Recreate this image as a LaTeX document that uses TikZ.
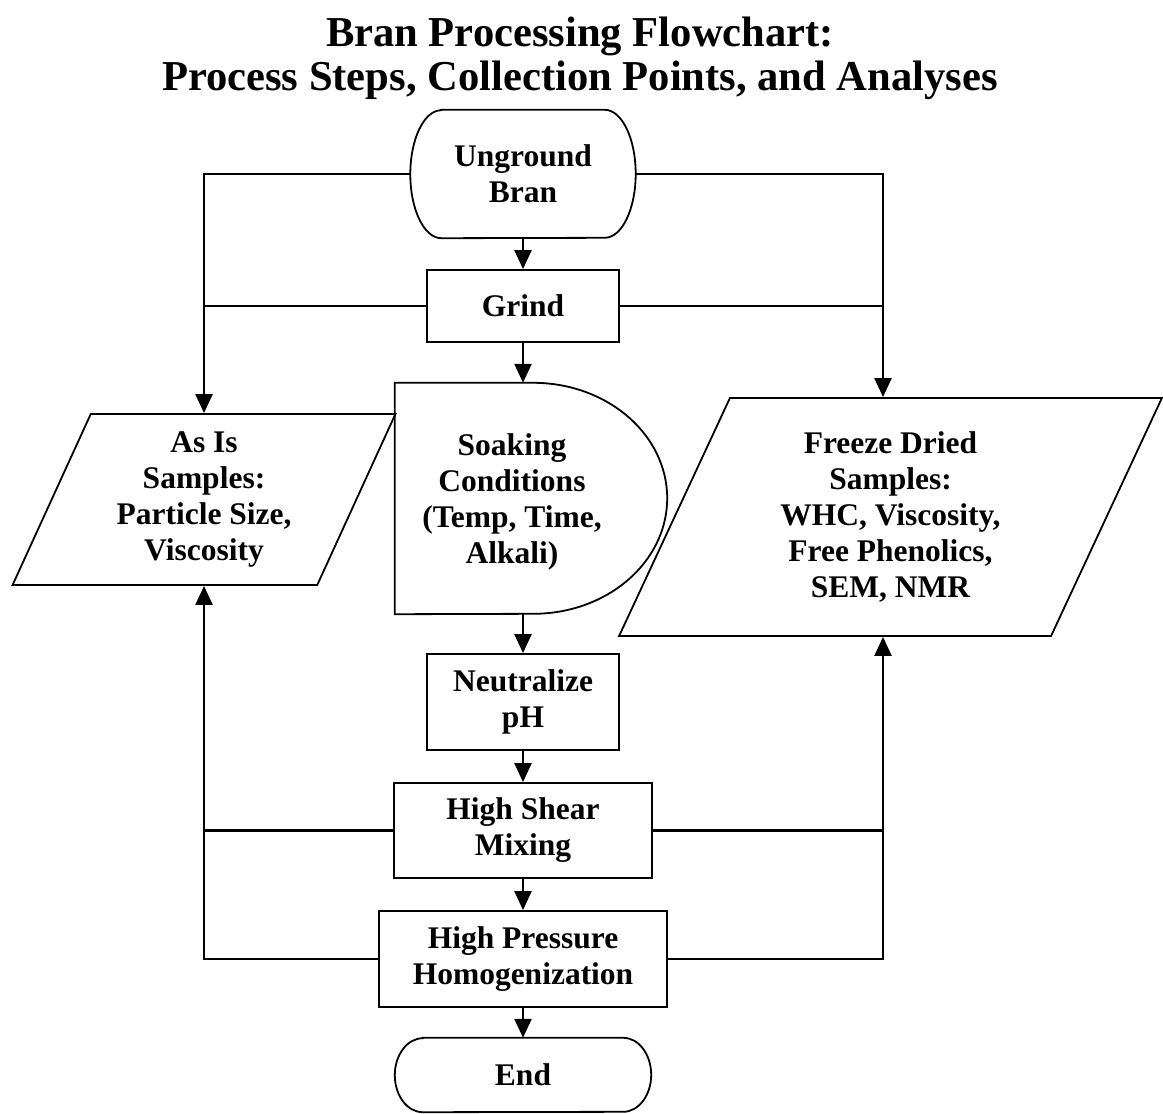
\documentclass[tikz,border=0pt]{standalone}
\usepackage{fontspec}
\setmainfont{Liberation Serif}
\usetikzlibrary{arrows.meta, shapes.geometric}

\begin{document}
\begin{tikzpicture}[x=1pt, y=-1pt,
  every node/.style={font=\fontsize{31.5}{36}\selectfont\bfseries, align=center, inner sep=0pt},
  box/.style={draw, line width=1.8pt, minimum width=#1},
  io/.style={draw, line width=1.8pt, trapezium, trapezium left angle=66, trapezium right angle=114, trapezium stretches=true},
  outline/.style={line width=1.8pt},
  flow/.style={line width=2.4pt},
  arr/.style={flow, -{Triangle[width=17pt,length=19pt]}}]
\useasboundingbox (0,0) rectangle (1163,1114);
% title
\node [font=\fontsize{42.6}{44}\selectfont\bfseries] (title) at (580,58) {Bran Processing Flowchart:\\Process Steps, Collection Points, and Analyses};
% process column
\node [minimum width=225pt, minimum height=128pt] (bran) at (523,174) {Unground\\Bran};
\node [box=192pt, minimum height=72pt] (grind) at (523,306) {Grind};
\node [minimum width=272pt, minimum height=231pt] (soak) at (531,498.5) {};
\node (soaktxt) at (512,502) {Soaking\\Conditions\\(Temp, Time,\\Alkali)};
\node [box=192pt, minimum height=96pt] (neut) at (523,702) {Neutralize\\pH};
\node [box=258pt, minimum height=95pt] (shear) at (523,830.5) {High Shear\\Mixing};
\node [box=288pt, minimum height=96pt] (hph) at (523,959) {High Pressure\\Homogenization};
\node [minimum width=256pt, minimum height=74pt] (fin) at (523,1075) {End};
% sample points
\node [io, minimum width=384pt, minimum height=171pt] (asis) at (204,499.5) {As Is\\Samples:\\Particle Size,\\Viscosity};
\node [io, minimum width=543pt, minimum height=238pt] (freeze) at (890.5,517) {Freeze Dried\\Samples:\\WHC, Viscosity,\\Free Phenolics,\\SEM, NMR};
\coordinate (rbus) at (883,0);
% terminal and delay outlines
\draw [outline] ([xshift=31pt]bran.north west) -- ([xshift=-31pt]bran.north east)
  arc [start angle=90, end angle=-90, x radius=31pt, y radius=64pt]
  -- ([xshift=31pt]bran.south west)
  arc [start angle=270, end angle=90, x radius=31pt, y radius=64pt] -- cycle;
\draw [outline] (soak.south west) -- (soak.north west) -- ([xshift=-134pt]soak.north east)
  arc [start angle=90, end angle=-90, x radius=134pt, y radius=115.5pt] -- cycle;
\draw [outline] ([xshift=28pt]fin.north west) -- ([xshift=-28pt]fin.north east)
  arc [start angle=90, end angle=-90, x radius=28pt, y radius=37pt]
  -- ([xshift=28pt]fin.south west)
  arc [start angle=270, end angle=90, x radius=28pt, y radius=37pt] -- cycle;
% main flow
\draw [arr] (bran.south) -- (grind.north);
\draw [arr] (grind.south) -- (grind.south |- soak.north);
\draw [arr] (grind.south |- soak.south) -- (neut.north);
\draw [arr] (neut.south) -- (shear.north);
\draw [arr] (shear.south) -- (hph.north);
\draw [arr] (hph.south) -- (fin.north);
% collection lines
\draw [arr] (bran.west) -| (asis.north);
\draw [flow] (grind.west) -- (grind.west -| asis.north);
\draw [arr] (bran.east) -| (rbus |- freeze.north);
\draw [flow] (grind.east) -- (grind.east -| rbus);
\draw [arr] (shear.west) -| (asis.south);
\draw [flow] (hph.west) -| (shear.west -| asis.south);
\draw [arr] (shear.east) -| (rbus |- freeze.south);
\draw [flow] (hph.east) -| (shear.east -| rbus);
\end{tikzpicture}
\end{document}
